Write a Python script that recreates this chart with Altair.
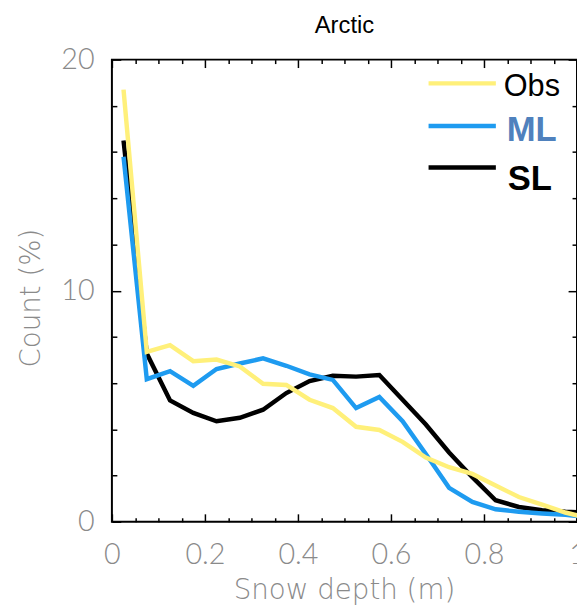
import altair as alt
import pandas as pd

# ---- data ----
depth = [0.025, 0.075, 0.125, 0.175, 0.225, 0.275, 0.325, 0.375, 0.425, 0.475,
         0.525, 0.575, 0.625, 0.675, 0.725, 0.775, 0.825, 0.875, 0.925, 0.975, 1.025]
obs = [18.7, 7.35, 7.64, 6.95, 7.02, 6.72, 5.97, 5.92, 5.28, 4.92,
       4.11, 3.97, 3.46, 2.78, 2.36, 2.07, 1.57, 1.07, 0.74, 0.40, 0.15]
ml = [15.8, 6.17, 6.52, 5.88, 6.61, 6.85, 7.07, 6.75, 6.38, 6.14,
      4.92, 5.40, 4.35, 2.93, 1.47, 0.86, 0.54, 0.43, 0.36, 0.30, 0.20]
sl = [16.5, 7.28, 5.25, 4.71, 4.35, 4.50, 4.85, 5.57, 6.09, 6.32,
      6.28, 6.35, 5.28, 4.21, 3.00, 1.93, 0.93, 0.64, 0.50, 0.43, 0.40]

series_names = ["Obs", "ML", "SL"]
line_colors = ["#FFF07A", "#1E9BF0", "#000000"]
label_colors = ["#000000", "#4F81BD", "#000000"]
label_weights = ["normal", "bold", "bold"]
label_sizes = [31, 35, 35]

x_major = [0, 0.2, 0.4, 0.6, 0.8, 1]
x_ticks = [0, 0.05, 0.1, 0.15, 0.2, 0.25, 0.3, 0.35, 0.4, 0.45, 0.5,
           0.55, 0.6, 0.65, 0.7, 0.75, 0.8, 0.85, 0.9, 0.95, 1]
y_major = [0, 10, 20]
y_ticks = [0, 2, 4, 6, 8, 10, 12, 14, 16, 18, 20]

chart_title = "Arctic"
x_title = "Snow depth (m)"
y_title = "Count (%)"

values = {"Obs": obs, "ML": ml, "SL": sl}
rows = []
for name in series_names:
    for d, v in zip(depth, values[name]):
        rows.append({"depth": d, "count": v, "series": name})
df = pd.DataFrame(rows)
legend_df = pd.DataFrame({"series": series_names})
titles_df = pd.DataFrame({"label": [chart_title, x_title, y_title]})

W, H = 470, 467
LABEL_FONT = "Lato"
TITLE_FONT = "DejaVu Sans"
GRAY = "#8a8a8a"

xscale = alt.Scale(domain=[0, 1], nice=False, zero=False)
yscale = alt.Scale(domain=[0, 20], nice=False, zero=False)

x_tick_size = {"condition": {"test": "abs(datum.value*5 - round(datum.value*5)) < 0.001", "value": 8}, "value": 4}
y_tick_size = {"condition": {"test": "abs(datum.value/10 - round(datum.value/10)) < 0.001", "value": 9}, "value": 5}

base = alt.Chart(df)

# axis with labels
layer_a = base.mark_line(opacity=0).encode(
    x=alt.X("depth:Q", scale=xscale, axis=alt.Axis(
        orient="bottom", values=x_major, format="~g", ticks=False, domain=False, grid=False,
        labelFont=LABEL_FONT, labelFontWeight=300, labelFontSize=29, labelColor=GRAY,
        labelPadding=19, labelFlush=False, title=None)),
    y=alt.Y("count:Q", scale=yscale, axis=alt.Axis(
        orient="left", values=y_major, ticks=False, domain=False, grid=False,
        labelFont=LABEL_FONT, labelFontWeight=300, labelFontSize=29, labelColor=GRAY,
        labelPadding=18, labelFlush=False, title=None)),
)

# inward ticks on bottom and left edges
layer_b = base.mark_line(opacity=0).encode(
    x=alt.X("depth:Q", scale=xscale, axis=alt.Axis(
        orient="top", offset=-H, values=x_ticks, labels=False, domain=False, grid=False,
        tickColor="black", tickWidth=1.5, tickSize=x_tick_size, title=None)),
    y=alt.Y("count:Q", scale=yscale, axis=alt.Axis(
        orient="right", offset=-W, values=y_ticks, labels=False, domain=False, grid=False,
        tickColor="black", tickWidth=1.5, tickSize=y_tick_size, title=None)),
)

# inward ticks on top and right edges
layer_c = base.mark_line(opacity=0).encode(
    x=alt.X("depth:Q", scale=xscale, axis=alt.Axis(
        orient="bottom", offset=-H, values=x_ticks, labels=False, domain=False, grid=False,
        tickColor="black", tickWidth=1.5, tickSize=x_tick_size, title=None)),
    y=alt.Y("count:Q", scale=yscale, axis=alt.Axis(
        orient="left", offset=-W, values=y_ticks, labels=False, domain=False, grid=False,
        tickColor="black", tickWidth=1.5, tickSize=y_tick_size, title=None)),
)

line_layers = []
for name, col in zip(["SL", "ML", "Obs"], ["#000000", "#1E9BF0", "#FFF07A"]):
    line_layers.append(
        base.transform_filter(alt.datum.series == name)
        .mark_line(color=col, strokeWidth=4.5, clip=True)
        .encode(x=alt.X("depth:Q", scale=xscale, axis=None),
                y=alt.Y("count:Q", scale=yscale, axis=None))
    )

# manual legend
legend_layers = []
line_y = [24, 67, 109]
text_y = [37, 82, 132]
text_x = [396, 399, 400]
for i, name in enumerate(series_names):
    src = alt.Chart(legend_df).transform_filter(alt.datum.series == name)
    legend_layers.append(src.mark_rule(color=line_colors[i], strokeWidth=4.5).encode(
        x=alt.value(320), x2=alt.value(388), y=alt.value(line_y[i])))
    legend_layers.append(src.mark_text(
        align="left", baseline="alphabetic", font="Liberation Sans", fontSize=label_sizes[i],
        fontWeight=label_weights[i], color=label_colors[i]).encode(
        x=alt.value(text_x[i]), y=alt.value(text_y[i]), text="series:N"))

# titles as text
tsrc = alt.Chart(titles_df)
title_layer = tsrc.transform_filter(alt.datum.label == chart_title).mark_text(
    align="center", baseline="alphabetic", font="Liberation Sans", fontSize=24, color="black"
).encode(x=alt.value(W / 2), y=alt.value(-27), text="label:N")
xtitle_layer = tsrc.transform_filter(alt.datum.label == x_title).mark_text(
    align="center", baseline="alphabetic", font=TITLE_FONT, fontWeight=200, fontSize=28, color=GRAY
).encode(x=alt.value(W / 2), y=alt.value(545), text="label:N")
ytitle_layer = tsrc.transform_filter(alt.datum.label == y_title).mark_text(
    align="center", baseline="alphabetic", font=TITLE_FONT, fontWeight=200, fontSize=28, color=GRAY,
    angle=270
).encode(x=alt.value(-73), y=alt.value(241), text="label:N")

chart = alt.layer(layer_a, layer_b, layer_c, *line_layers, *legend_layers,
                  title_layer, xtitle_layer, ytitle_layer).resolve_axis(
    x="independent", y="independent"
).properties(
    width=W, height=H,
    autosize=alt.AutoSizeParams(type="none"),
    padding={"left": 105, "top": 49, "right": 0, "bottom": 85},
).configure_view(stroke="black", strokeWidth=2)

chart.save("out.html", embed_options={"renderer": "svg", "actions": False})
